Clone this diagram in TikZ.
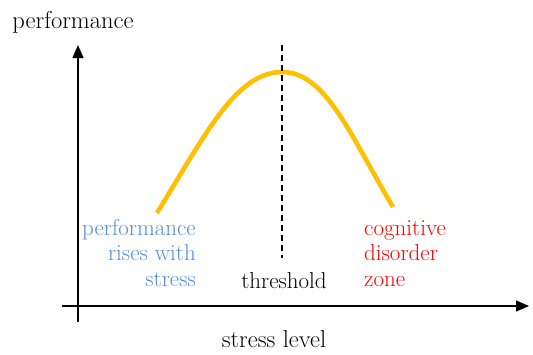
\documentclass[tikz,border=0pt]{standalone}
\usepackage{fontspec}
\usetikzlibrary{arrows.meta}

\definecolor{curvegold}{HTML}{FFC000}
\definecolor{riseblue}{HTML}{558ED5}

\begin{document}
\begin{tikzpicture}[
      x=1pt, y=-1pt,
      >={Triangle[length=13pt,width=11pt]},
      axis/.style={line width=1.4pt, ->},
      curvebar/.style={curvegold, line width=4.6pt},
      limit/.style={dashed, dash pattern=on 6pt off 4pt, line width=1.4pt},
      axislabel/.style={inner sep=0pt, font=\fontsize{24.5}{26}\selectfont},
      zonelabel/.style={inner sep=0pt, font=\fontsize{23}{25.5}\selectfont}
    ]
      \useasboundingbox (0,0) rectangle (533,354);

      % axes
      \coordinate (ybot) at (78,322);
      \coordinate (ytop) at (78,45);
      \coordinate (xleft) at (62,306);
      \coordinate (xright) at (529,306);
      \draw[axis] (ybot) -- (ytop);
      \draw[axis] (xleft) -- (xright);

      \node[axislabel, anchor=base] (perf) at (73,28) {performance};
      \node[axislabel, anchor=base] (stress) at (274,347) {stress level};

      % stress curve
      \coordinate (cstart) at (157,213);
      \coordinate (peak) at (282,72);
      \coordinate (cend) at (393,207);
      \draw[curvebar] (cstart) .. controls (205,135) and (236,72) .. (peak)
        .. controls (326,72) and (350,135) .. (cend);

      % threshold marker
      \node[zonelabel, anchor=base] (thr) at (284,288) {threshold};
      \coordinate (dtop) at (282,45);
      \coordinate (dbot) at (282,258);
      \draw[limit] (dtop) -- (dbot);

      % multi-line labels sit on the baseline of their last line
      \node[zonelabel, riseblue, align=right, anchor=base east] (rise) at (196,286)
        {performance\\rises with\\stress};
      \node[zonelabel, red, align=left, anchor=base west] (zone) at (364,286)
        {cognitive\\disorder\\zone};
    \end{tikzpicture}
\end{document}
